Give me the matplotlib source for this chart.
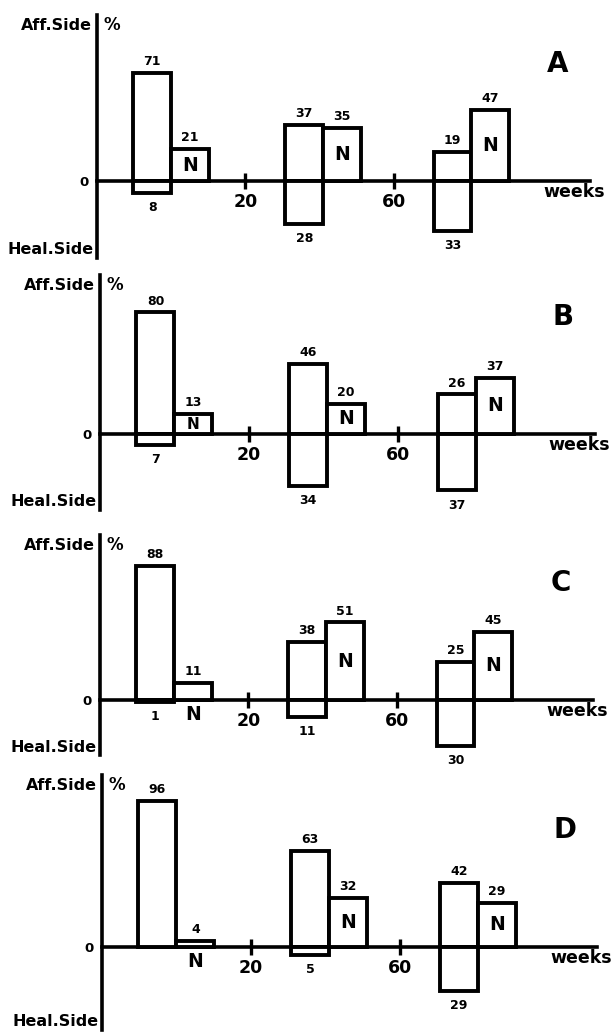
import numpy as np
import matplotlib
matplotlib.use('Agg')
import matplotlib.pyplot as plt

plt.rcParams['font.family'] = ['DejaVu Sans']
plt.rcParams['font.weight'] = 'bold'

# data (percent), three observation groups per panel
panels = ['A', 'B', 'C', 'D']
group_weeks = [0, 41, 81]
affected_side = [[71, 37, 19], [80, 46, 26], [88, 38, 25], [96, 63, 42]]
healthy_side = [[8, 28, 33], [7, 34, 37], [1, 11, 30], [0, 5, 29]]
normal_side = [[21, 35, 47], [13, 20, 37], [11, 51, 45], [4, 32, 29]]
week_ticks = [20, 60]

BAR_W = 10.2
PX_PER_PCT = 1.52
W, H = 613, 1032
PT = 0.72  # points per pixel at dpi 100

# pixel frame of each panel: y-axis x, zero line end x, axis top y, axis bottom y, zero y
frames = [(97, 590, 15, 258, 181),
          (100, 595, 275, 510, 434),
          (100, 593, 535, 755, 700),
          (102, 597, 775, 1030, 947)]

fig = plt.figure(figsize=(W / 100, H / 100), dpi=100)

for i, name in enumerate(panels):
    x0, x1, ytop, ybot, yzero = frames[i]
    ax = fig.add_axes([x0 / W, 1 - ybot / H, (x1 - x0) / W, (ybot - ytop) / H])
    ax.set_xlim(-20, 113)
    ax.set_ylim(-(ybot - yzero) / PX_PER_PCT, (yzero - ytop) / PX_PER_PCT)
    ax.patch.set_alpha(0)

    for s in ['top', 'right']:
        ax.spines[s].set_visible(False)
    ax.spines['bottom'].set_position(('data', 0))
    ax.spines['bottom'].set_linewidth(2.6)
    ax.spines['left'].set_linewidth(2.6)

    ax.set_xticks(week_ticks)
    ax.set_xticklabels([str(t) for t in week_ticks], fontsize=12.5, fontweight='bold')
    ax.tick_params(axis='x', direction='inout', length=11.5, width=2.4, pad=3)
    ax.set_yticks([0])
    ax.set_yticklabels(['0'], fontsize=9.5, fontweight='bold')
    ax.tick_params(axis='y', length=0, pad=6)

    g = np.array(group_weeks)
    aff = np.array(affected_side[i])
    heal = np.array(healthy_side[i])
    nor = np.array(normal_side[i])

    bar_kw = dict(width=BAR_W, align='edge', facecolor='white', edgecolor='black',
                  linewidth=2.8, zorder=3)
    ax.bar(g - BAR_W, aff, **bar_kw)
    ax.bar(g, nor, **bar_kw)
    mask = heal > 0
    ax.bar((g - BAR_W)[mask], -heal[mask], **bar_kw)

    for k in range(len(g)):
        ax.annotate(str(aff[k]), (g[k] - BAR_W / 2, aff[k]), xytext=(0, 3.5),
                    textcoords='offset points', ha='center', va='bottom', fontsize=9)
        ax.annotate(str(nor[k]), (g[k] + BAR_W / 2, nor[k]), xytext=(0, 3.5),
                    textcoords='offset points', ha='center', va='bottom', fontsize=9)
        if heal[k] > 0:
            ax.annotate(str(heal[k]), (g[k] - BAR_W / 2, -heal[k]), xytext=(0, -6),
                        textcoords='offset points', ha='center', va='top', fontsize=9)
        if nor[k] >= 13:
            ax.text(g[k] + BAR_W / 2, nor[k] / 2, 'N', ha='center', va='center',
                    fontsize=13.5 if nor[k] > 15 else 11, zorder=4)
        else:
            ax.annotate('N', (g[k] + BAR_W / 2, 0), xytext=(0, -10.5),
                        textcoords='offset points', ha='center', va='center', fontsize=13.5)

    ax.annotate('weeks', (1, 0), xycoords=('axes fraction', 'data'),
                xytext=(15 * PT, -11 * PT), textcoords='offset points',
                ha='right', va='center', fontsize=12.5, annotation_clip=False)
    ax.annotate(name, (1, 0), xycoords=('axes fraction', 'data'),
                xytext=(-32 * PT, 117 * PT), textcoords='offset points',
                ha='center', va='center', fontsize=20, annotation_clip=False)
    ax.annotate('Aff.Side', (0, 1), xycoords='axes fraction',
                xytext=(-5 * PT, -10 * PT), textcoords='offset points',
                ha='right', va='center', fontsize=11.5, annotation_clip=False)
    ax.annotate('%', (0, 1), xycoords='axes fraction',
                xytext=(15 * PT, -10 * PT), textcoords='offset points',
                ha='center', va='center', fontsize=12, annotation_clip=False)
    ax.annotate('Heal.Side', (0, 0), xycoords='axes fraction',
                xytext=(-3 * PT, 8 * PT), textcoords='offset points',
                ha='right', va='center', fontsize=11.5, annotation_clip=False)

fig.savefig('out.png', dpi=100)
